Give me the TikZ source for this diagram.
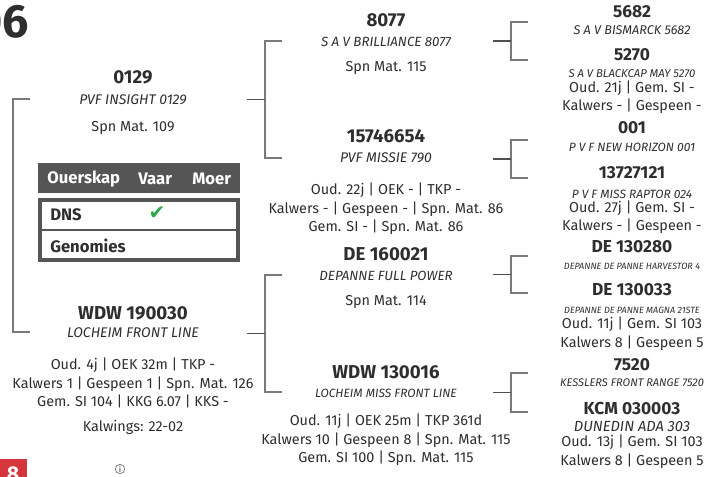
\documentclass[tikz,border=0pt]{standalone}
\usepackage{fontspec}
\setmainfont{Fira Sans}
\newfontfamily\symfont{DejaVu Sans}
\usetikzlibrary{positioning}
\definecolor{inkgray}{HTML}{2E2E2E}
\definecolor{linegray}{HTML}{7A7A7A}
\definecolor{stubgray}{HTML}{505050}
\definecolor{boxgray}{HTML}{555555}
\definecolor{checkgreen}{HTML}{2BA84A}
\definecolor{badgered}{HTML}{D6363B}

\begin{document}
\begin{tikzpicture}[
  x=0.75pt, y=-0.75pt,
  every node/.style={inner sep=0pt, text=inkgray},
  idlabel/.style={font=\fontsize{#1}{#1}\selectfont\bfseries},
  idlabel/.default=14,
  namelabel/.style={font=\fontsize{#1}{#1}\selectfont\itshape},
  namelabel/.default=10.5,
  statlabel/.style={align=center, font=\fontsize{10.8}{13.9}\selectfont},
  bracket/.style={draw=linegray, line width=1pt},
  stub/.style={draw=stubgray, line width=1.4pt},
  headtext/.style={text=white, font=\fontsize{12.5}{14}\selectfont\bfseries},
  celltext/.style={anchor=west, font=\fontsize{12.5}{14}\selectfont\bfseries}
]
\useasboundingbox (0,0) rectangle (719,476);

% Column centres
\def\colA{133}
\def\colB{386}
\def\colC{632}

% Cut-off animal number
\node[idlabel=35, anchor=east] (pupid) at (29,22) {06};

% ===== Generation 1 =====
\node[idlabel] (s) at (\colA,77) {0129};
\node[namelabel] (s-name) at (\colA,100) {PVF INSIGHT 0129};
\node[statlabel] (s-stat) at (\colA,128) {Spn Mat. 109};

\node[idlabel] (d) at (\colA,313) {WDW 190030};
\node[namelabel] (d-name) at (\colA,333) {LOCHEIM FRONT LINE};
\node[statlabel] (d-stat) at (\colA,383)
  {Oud. 4j | OEK 32m | TKP -\\Kalwers 1 | Gespeen 1 | Spn. Mat. 126\\Gem. SI 104 | KKG 6.07 | KKS -};
\node[statlabel] (d-calv) at (\colA,427) {Kalwings: 22-02};

% Parentage table
\fill[boxgray] (38,163) rectangle (240,193);
\draw[boxgray, line width=3pt] (40,200) rectangle (238,260);
\draw[boxgray, line width=0.8pt] (40,230) -- (238,230);
\node[headtext, anchor=west] (head-par) at (47,179) {Ouerskap};
\node[headtext, anchor=west] (head-sire) at (138,179) {Vaar};
\node[headtext, anchor=west] (head-dam) at (192,179) {Moer};
\node[celltext] (row-dns) at (50,215) {DNS};
\node[font=\symfont\fontsize{15}{15}\selectfont, text=checkgreen] (dns-check) at (157,213) {✔};
\node[celltext] (row-gen) at (50,246) {Genomies};

% ===== Generation 2 =====
\node[idlabel] (ss) at (\colB,20) {8077};
\node[namelabel=10] (ss-name) at (\colB,42) {S A V BRILLIANCE 8077};
\node[statlabel] (ss-stat) at (\colB,68) {Spn Mat. 115};

\node[idlabel] (sd) at (\colB,136) {15746654};
\node[namelabel] (sd-name) at (\colB,158) {PVF MISSIE 790};
\node[statlabel] (sd-stat) at (\colB,209)
  {Oud. 22j | OEK - | TKP -\\Kalwers - | Gespeen - | Spn. Mat. 86\\Gem. SI - | Spn. Mat. 86};

\node[idlabel] (ds) at (\colB,254) {DE 160021};
\node[namelabel=10] (ds-name) at (\colB,276) {DEPANNE FULL POWER};
\node[statlabel] (ds-stat) at (\colB,302) {Spn Mat. 114};

\node[idlabel] (dd) at (\colB,372) {WDW 130016};
\node[namelabel=9] (dd-name) at (\colB,393) {LOCHEIM MISS FRONT LINE};
\node[statlabel] (dd-stat) at (\colB,440)
  {Oud. 11j | OEK 25m | TKP 361d\\Kalwers 10 | Gespeen 8 | Spn. Mat. 115\\Gem. SI 100 | Spn. Mat. 115};

% ===== Generation 3 =====
\node[idlabel=13] (sss) at (\colC,12) {5682};
\node[namelabel=9.5] (sss-name) at (\colC,30) {S A V BISMARCK 5682};

\node[idlabel=13] (ssd) at (\colC,55) {5270};
\node[namelabel=8.5] (ssd-name) at (\colC,74) {S A V BLACKCAP MAY 5270};
\node[statlabel] (ssd-stat) at (\colC,97) {Oud. 21j | Gem. SI -\\Kalwers - | Gespeen -};

\node[idlabel=13] (sds) at (\colC,128) {001};
\node[namelabel=9] (sds-name) at (\colC,147) {P V F NEW HORIZON 001};

\node[idlabel=13] (sdd) at (\colC,173) {13727121};
\node[namelabel=9] (sdd-name) at (\colC,194) {P V F MISS RAPTOR 024};
\node[statlabel] (sdd-stat) at (\colC,217) {Oud. 27j | Gem. SI -\\Kalwers - | Gespeen -};

\node[idlabel=13] (dss) at (\colC,247) {DE 130280};
\node[namelabel=6.8] (dss-name) at (\colC,266) {DEPANNE DE PANNE HARVESTOR 4};

\node[idlabel=13] (dsd) at (\colC,290) {DE 130033};
\node[namelabel=6.8] (dsd-name) at (\colC,310) {DEPANNE DE PANNE MAGNA 21STE};
\node[statlabel] (dsd-stat) at (\colC,333.5) {Oud. 11j | Gem. SI 103\\Kalwers 8 | Gespeen 5};

\node[idlabel=13] (dds) at (\colC,365) {7520};
\node[namelabel=8.3] (dds-name) at (\colC,383) {KESSLERS FRONT RANGE 7520};

\node[idlabel=13] (ddd) at (\colC,408) {KCM 030003};
\node[namelabel=11] (ddd-name) at (\colC,427) {DUNEDIN ADA 303};
\node[statlabel] (ddd-stat) at (\colC,451.5) {Oud. 13j | Gem. SI 103\\Kalwers 8 | Gespeen 5};

% Brackets: owner/x/top/bottom
\foreach \b/\x/\ya/\yb in {pup/13/99/332, s/265/41/158, d/265/275/392,
    ss/511/22/60, sd/511/140/178, ds/511/256/293, dd/511/373/412} {
  \coordinate (\b-top) at (\x+17,\ya);
  \coordinate (\b-bot) at (\x+17,\yb);
  \coordinate (\b-fork) at (\x,{(\ya+\yb)/2});
}
\foreach \b in {pup, s, d, ss, sd, ds, dd}
  \draw[bracket] (\b-top) -| (\b-fork) |- (\b-bot);

% Stubs into each bracket
\foreach \b in {s, d, ss, sd, ds, dd} {
  \coordinate[left=13.5pt of \b-fork] (\b-in);
  \draw[stub] (\b-in) -- (\b-fork);
}

% Cut-off footer
\fill[badgered] (0,459) rectangle (27,480);
\node[text=white, font=\fontsize{16}{16}\selectfont\bfseries] (footbadge) at (13,474) {8};
\node[circle, draw=gray, line width=0.6pt, minimum size=7pt, text=gray,
  font=\fontsize{6}{6}\selectfont\bfseries] (footinfo) at (120,469) {i};

\end{tikzpicture}
\end{document}
